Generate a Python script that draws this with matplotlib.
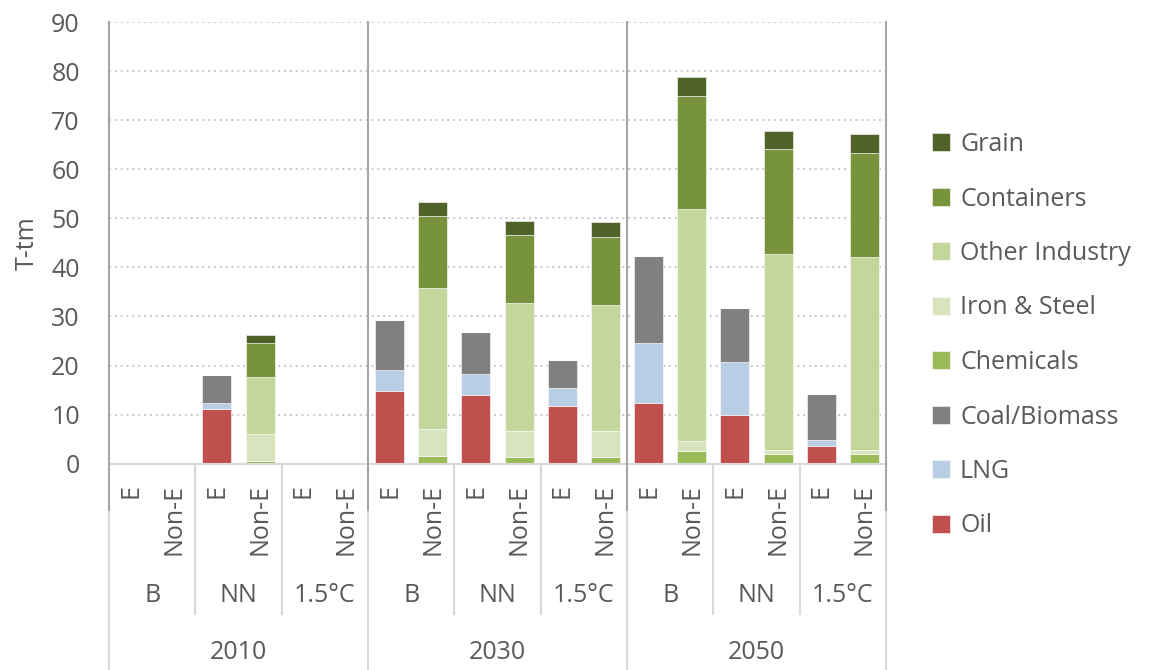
import numpy as np
import matplotlib.pyplot as plt
import matplotlib.transforms as mtransforms

plt.rcParams['font.family'] = ['Open Sans', 'DejaVu Sans']

years = ["2010", "2030", "2050"]
scenarios = ["B", "NN", "1.5°C"]
types = ["E", "Non-E"]

# 18 slots: year -> scenario -> E / Non-E
oil        = [0, 0, 11.2, 0, 0, 0,   14.8, 0, 14.0, 0, 11.8, 0,   12.3, 0, 9.9, 0, 3.6, 0]
lng        = [0, 0, 1.2, 0, 0, 0,    4.3, 0, 4.2, 0, 3.6, 0,      12.3, 0, 10.8, 0, 1.3, 0]
coal       = [0, 0, 5.7, 0, 0, 0,    10.1, 0, 8.7, 0, 5.7, 0,     17.8, 0, 11.1, 0, 9.4, 0]
chemicals  = [0, 0, 0, 0.6, 0, 0,    0, 1.5, 0, 1.3, 0, 1.3,      0, 2.5, 0, 2.0, 0, 2.0]
iron_steel = [0, 0, 0, 5.5, 0, 0,    0, 5.5, 0, 5.3, 0, 5.3,      0, 2.2, 0, 0.7, 0, 0.7]
other_ind  = [0, 0, 0, 11.5, 0, 0,   0, 28.9, 0, 26.2, 0, 25.8,   0, 47.1, 0, 40.1, 0, 39.5]
containers = [0, 0, 0, 6.9, 0, 0,    0, 14.6, 0, 13.8, 0, 13.8,   0, 23.1, 0, 21.3, 0, 21.1]
grain      = [0, 0, 0, 1.7, 0, 0,    0, 2.9, 0, 2.8, 0, 3.0,      0, 3.8, 0, 3.6, 0, 3.9]

series = [
    ("Oil", oil, "#C0504D"),
    ("LNG", lng, "#B9CDE5"),
    ("Coal/Biomass", coal, "#808080"),
    ("Chemicals", chemicals, "#9BBB59"),
    ("Iron & Steel", iron_steel, "#D7E4BD"),
    ("Other Industry", other_ind, "#C3D69B"),
    ("Containers", containers, "#77933C"),
    ("Grain", grain, "#4F6228"),
]

text_col = "#595959"
fs = 18
fig = plt.figure(figsize=(11.59, 6.70), dpi=100)
ax = fig.add_axes([109 / 1159, 1 - 463.7 / 670, (886 - 109) / 1159, (463.7 - 22) / 670])

x = np.arange(18)
bottom = np.zeros(18)
handles = []
for name, vals, col in series:
    vals = np.array(vals, dtype=float)
    b = ax.bar(x, vals, width=0.67, bottom=bottom, color=col, edgecolor="white",
               linewidth=0.4, label=name, zorder=3)
    handles.append(b)
    bottom += vals

ax.set_xlim(-0.5, 17.5)
ax.set_ylim(0, 90)
ax.set_yticks(range(0, 91, 10))
ax.tick_params(axis="y", length=0, labelsize=fs, labelcolor=text_col, pad=21)
ax.set_xticks([])
ax.yaxis.grid(True, linestyle=(0, (1, 2)), color="#C8C8C8", linewidth=1.4, zorder=0)
for s in ax.spines.values():
    s.set_visible(False)
ax.set_ylabel("T-tm", fontsize=fs, color=text_col, labelpad=8)

# category table under the plot
trans = mtransforms.blended_transform_factory(ax.transData, ax.transAxes)
px = 1 / 441.7  # one pixel in axes fraction
light = "#D9D9D9"
dark = "#A6A6A6"

ax.plot([-0.5, 17.5], [0, 0], transform=trans, color=light, lw=1.5, clip_on=False, zorder=4)
for gx in [-0.5, 5.5, 11.5, 17.5]:
    ax.plot([gx, gx], [0, 1], transform=trans, color=dark, lw=1.5, clip_on=False, zorder=4)
    ax.plot([gx, gx], [0, -48 * px], transform=trans, color=dark, lw=1.5, clip_on=False)
    ax.plot([gx, gx], [-48 * px, -207 * px], transform=trans, color=light, lw=1.5, clip_on=False)
for g in range(3):
    for k in (1, 2):
        sx = g * 6 + k * 2 - 0.5
        ax.plot([sx, sx], [0, -150 * px], transform=trans, color=light, lw=1.5, clip_on=False)

for i in range(18):
    ax.text(i, -20 * px, types[i % 2], transform=trans, rotation=90, ha="center", va="top",
            fontsize=fs, color=text_col, clip_on=False)
for g in range(3):
    for s in range(3):
        ax.text(g * 6 + s * 2 + 0.5, -132 * px, scenarios[s], transform=trans, ha="center",
                va="center", fontsize=fs, color=text_col)
    ax.text(g * 6 + 2.5, -189 * px, years[g], transform=trans, ha="center", va="center",
            fontsize=fs, color=text_col)

leg = fig.legend(handles[::-1], [h.get_label() for h in handles[::-1]], loc="upper left",
                 bbox_to_anchor=(932 / 1159, 1 - 132 / 670), frameon=False, fontsize=fs,
                 labelcolor=text_col, handlelength=0.72, handleheight=0.72,
                 handletextpad=0.4, labelspacing=1.18, borderpad=0, borderaxespad=0)

fig.savefig("out.png", dpi=100)
